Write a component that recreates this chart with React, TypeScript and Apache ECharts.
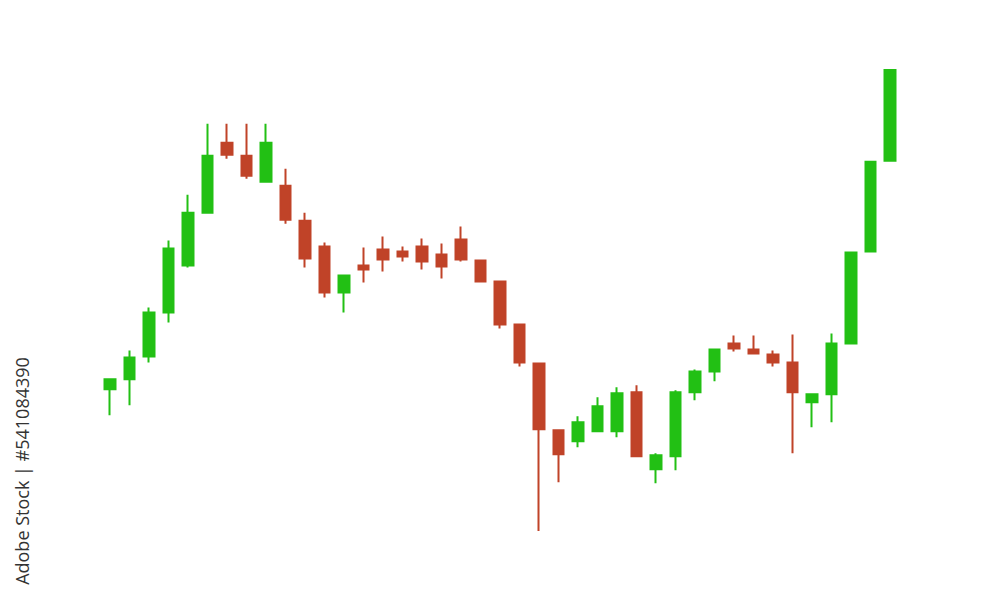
import React, { useEffect, useRef } from "react";
import * as echarts from "echarts";

// Values (price units, higher = up)
const categories: string[] = Array.from({ length: 41 }, (_, i) => `D${i + 1}`);
const openVals = [211, 221, 244, 288, 335, 388, 458, 445, 419, 415, 380, 354, 308, 335, 351, 349, 354, 346, 361, 340, 319, 276, 237, 170, 159, 169, 169, 208, 131, 144, 208, 229, 257, 251, 246, 238, 198, 206, 257, 349, 440];
const closeVals = [221, 243, 288, 352, 388, 445, 446, 425, 458, 381, 342, 308, 325, 331, 341, 344, 339, 334, 341, 319, 276, 238, 171, 146, 178, 194, 207, 144, 145, 208, 229, 251, 252, 247, 238, 208, 206, 257, 348, 439, 531];
const lowVals = [185, 195, 238, 278, 333, 388, 442, 422, 419, 377, 333, 303, 288, 318, 329, 339, 331, 322, 339, 319, 272, 234, 69, 118, 153, 169, 163, 144, 117, 130, 200, 219, 249, 247, 234, 147, 173, 178, 257, 349, 440];
const highVals = [221, 250, 293, 360, 406, 477, 477, 477, 477, 432, 388, 358, 325, 353, 364, 354, 362, 357, 374, 340, 319, 276, 237, 170, 184, 203, 213, 215, 147, 210, 231, 251, 265, 265, 250, 266, 206, 267, 348, 439, 531];
const watermarkLabel = "Adobe Stock | #541084390";

const UP = "#22C014";
const DOWN = "#C04328";

export default function App() {
  const ref = useRef<HTMLDivElement>(null);
  useEffect(() => {
    if (!ref.current) return;
    const chart = echarts.init(ref.current, null, { renderer: "svg" });
    const data = categories.map((_, i) => [openVals[i], closeVals[i], lowVals[i], highVals[i]]);
    chart.setOption({
      animation: false,
      backgroundColor: "#ffffff",
      grid: { left: 100, right: 100, top: 1, bottom: -1 },
      xAxis: {
        type: "category",
        data: categories,
        boundaryGap: true,
        show: false,
      },
      yAxis: {
        type: "value",
        min: 0,
        max: 600,
        show: false,
      },
      series: [
        {
          type: "candlestick",
          data,
          barWidth: 11,
          itemStyle: {
            color: UP,
            color0: DOWN,
            borderColor: UP,
            borderColor0: DOWN,
            borderWidth: 2,
          },
        },
      ],
      graphic: [
        {
          type: "text",
          x: 22,
          y: 471,
          rotation: Math.PI / 2,
          style: {
            text: watermarkLabel,
            fill: "#333333",
            font: "18px 'Open Sans', sans-serif",
            align: "center",
            verticalAlign: "middle",
          },
        },
      ],
    });
    return () => chart.dispose();
  }, []);
  return (
    <div
      ref={ref}
      style={{ position: "fixed", left: 0, top: 0, width: 1000, height: 600, background: "#fff" }}
    />
  );
}
